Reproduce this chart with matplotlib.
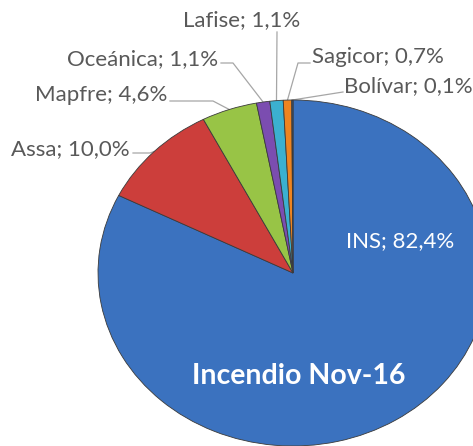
import matplotlib
matplotlib.use('Agg')
import matplotlib.pyplot as plt
import numpy as np

# datos
companias = ['INS', 'Assa', 'Mapfre', 'Oceánica', 'Lafise', 'Sagicor', 'Bolívar']
cuota     = [82.4, 10.0, 4.6, 1.1, 1.1, 0.7, 0.1]
colores   = ['#3B72BF', '#CC3E3B', '#98C446', '#7B4DB0', '#3BB0D0', '#EE8420', '#3A5F8F']
titulo    = 'Incendio Nov-16'

W, H = 473, 446
CX, CY = 293, 273      # centro del pastel (px desde arriba-izq)
RX, RY = 195, 173      # radios en px (algo achatado)

def px2data(px, py):
    return (px - CX) / RX, (CY - py) / RY

fig = plt.figure(figsize=(W / 100, H / 100), dpi=100)
ax = fig.add_axes([0, 0, 1, 1])
wedges, _ = ax.pie(cuota, colors=colores, startangle=90, counterclock=False,
                   wedgeprops=dict(edgecolor='#3a3a3a', linewidth=0.6))
ax.set_aspect('auto')
x0, y0 = px2data(0, H)
x1, y1 = px2data(W, 0)
ax.set_xlim(x0, x1)
ax.set_ylim(y0, y1)
ax.axis('off')

gris = '#595959'
fuente = ['Lato', 'DejaVu Sans']
fs = 16

# etiquetas: (x texto, y texto, alineacion, codo en px o None)
pos_etq = {
    'Assa':     (130, 149, 'right', (150, 153)),
    'Mapfre':   (167, 95, 'right', (213, 101)),
    'Oceánica': (218, 59, 'right', (233, 63)),
    'Lafise':   (242, 20, 'center', None),
    'Sagicor':  (312, 57, 'left', (298, 63)),
    'Bolívar':  (344, 86, 'left', None),
}
inicio_linea = {
    'Assa': (133, 153), 'Mapfre': (170, 101), 'Oceánica': (221, 63),
    'Lafise': (277, 32), 'Sagicor': (310, 63), 'Bolívar': (343, 92),
}

for w, nom, val in zip(wedges, companias, cuota):
    etq = '%s; %s%%' % (nom, ('%.1f' % val).replace('.', ','))
    if nom == 'INS':
        tx, ty = px2data(400, 241)
        ax.text(tx, ty, etq, color='white', fontsize=fs, family=fuente,
                ha='center', va='center')
        continue
    tx, ty, ha, codo = pos_etq[nom]
    ax.text(*px2data(tx, ty), etq, color=gris, fontsize=fs, family=fuente,
            ha=ha, va='center')
    ang = np.deg2rad((w.theta1 + w.theta2) / 2)
    pts = [px2data(*inicio_linea[nom])]
    if codo is not None:
        pts.append(px2data(*codo))
    pts.append((np.cos(ang), np.sin(ang)))
    pts = np.array(pts)
    ax.plot(pts[:, 0], pts[:, 1], color='#a6a6a6', lw=0.9, zorder=0.5)

ax.text(*px2data(299, 376), titulo, color='white', fontsize=20.5,
        fontweight='bold', family=fuente, ha='center', va='center')

fig.savefig('out.png', dpi=100)
